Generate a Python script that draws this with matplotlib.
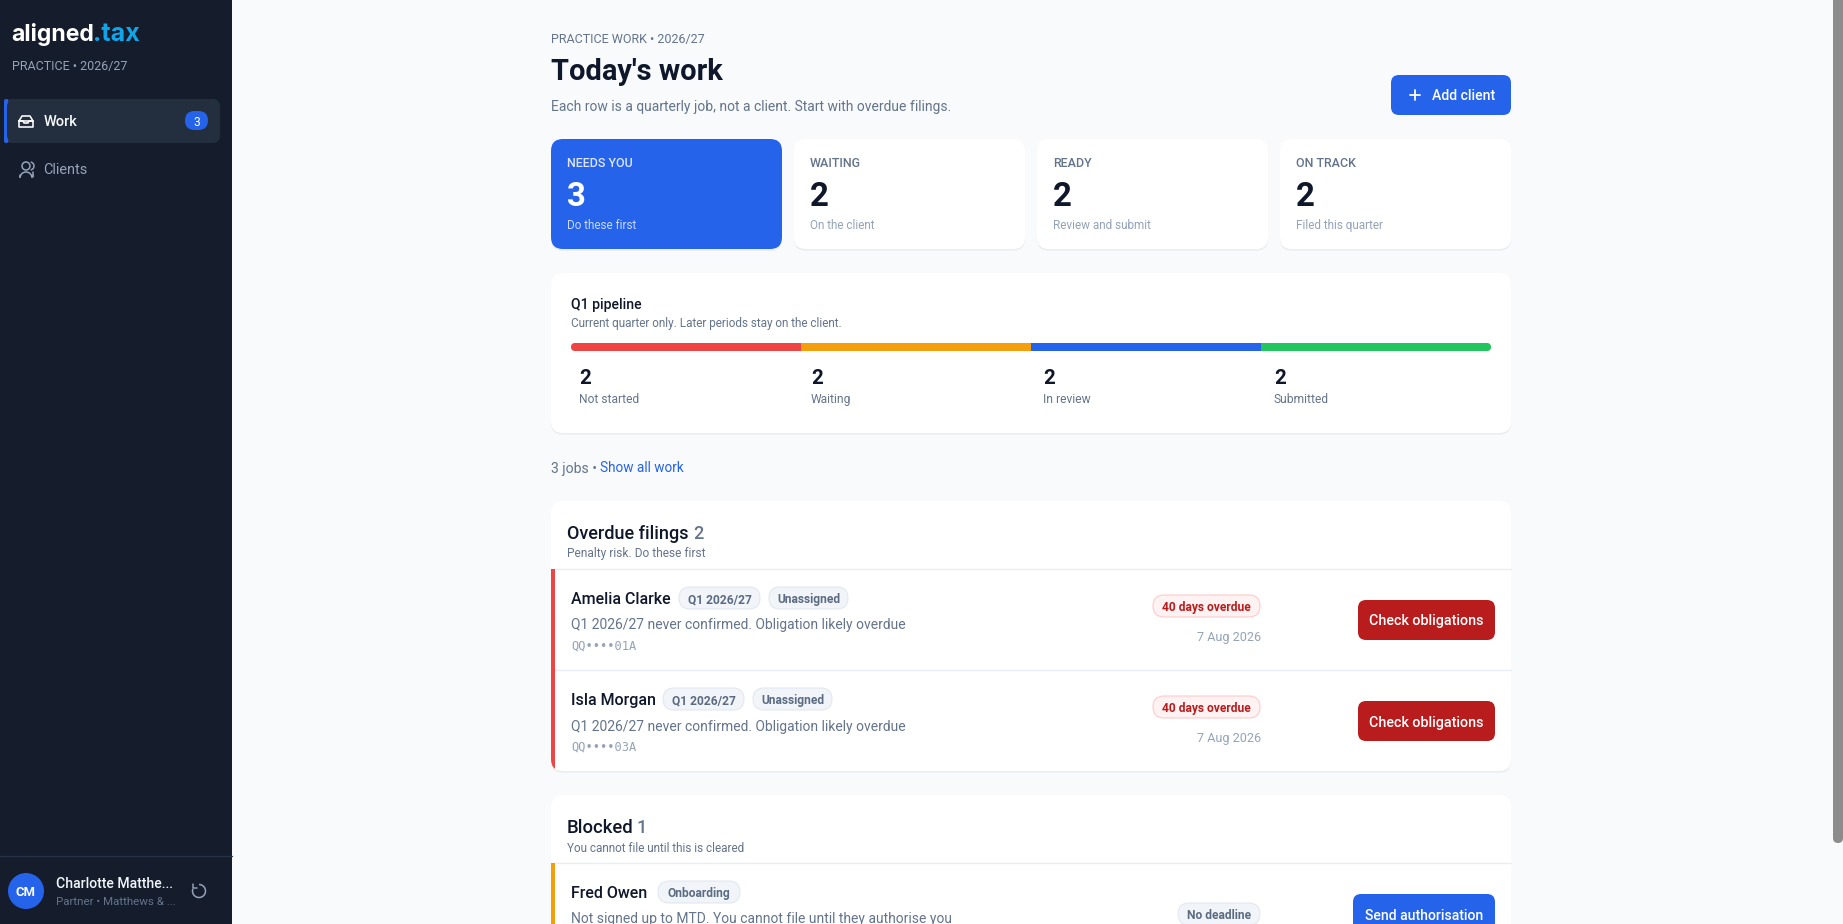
import matplotlib
matplotlib.use("Agg")
import matplotlib.pyplot as plt
from matplotlib.patches import FancyBboxPatch, Rectangle, Circle, Arc

W, H = 1843, 924
FONT = "Roboto"
MONO = "DejaVu Sans Mono"

# ---- data ----
stat_labels = ["NEEDS YOU", "WAITING", "READY", "ON TRACK"]
stat_values = [3, 2, 2, 2]
stat_notes = ["Do these first", "On the client", "Review and submit", "Filed this quarter"]
pipeline_labels = ["Not started", "Waiting", "In review", "Submitted"]
pipeline_values = [2, 2, 2, 2]
pipeline_colors = ["#ef4444", "#f59e0b", "#2563eb", "#22c55e"]
overdue_names = ["Amelia Clarke", "Isla Morgan"]
overdue_codes = ["QQ••••01A", "QQ••••03A"]
overdue_days = [40, 40]
overdue_dates = ["7 Aug 2026", "7 Aug 2026"]
overdue_note = "Q1 2026/27 never confirmed. Obligation likely overdue"

fig = plt.figure(figsize=(W / 100, H / 100), dpi=100, facecolor="#f8fafc")
ax = fig.add_axes([0, 0, 1, 1])
ax.set_xlim(0, W)
ax.set_ylim(H, 0)
ax.axis("off")


def box(x0, y0, x1, y1, r, fc, ec="none", lw=0, z=2):
    p = FancyBboxPatch((x0 + r, y0 + r), x1 - x0 - 2 * r, y1 - y0 - 2 * r,
                       boxstyle=f"round,pad={r},rounding_size={r}",
                       fc=fc, ec=ec, lw=lw, zorder=z, transform=ax.transData)
    ax.add_patch(p)
    return p


def card(x0, y0, x1, y1, r=12, fc="#ffffff"):
    box(x0, y0 + 3, x1, y1 + 2, r, "#eef1f5", z=1)
    box(x0, y0 + 1, x1, y1 + 1, r, "#e9edf2", z=1.2)
    return box(x0, y0, x1, y1, r, fc, z=2)


def txt(x, y, s, px, color, weight="normal", ha="left", family=FONT, z=5):
    return ax.text(x, y, s, fontsize=px * 0.72, color=color, weight=weight, ha=ha,
                   va="center_baseline", family=family, zorder=z)


def line(xs, ys, color, lw=1.0, z=3, **kw):
    ax.plot(xs, ys, color=color, lw=lw * 0.72, zorder=z, solid_capstyle="round", **kw)


def pill(x0, y0, x1, y1, s, fc, ec, tc, px=12):
    box(x0, y0, x1, y1, (y1 - y0) / 2, fc, ec, 0.8, z=4)
    txt((x0 + x1) / 2, (y0 + y1) / 2, s, px, tc, "bold", "center")


PILL_TEXT = "#5b6b82"

# ---- sidebar ----
ax.add_patch(Rectangle((0, 0), 232, H, fc="#151c2c", ec="none", zorder=1.5))
txt(11.5, 32, "aligned", 23, "#ffffff", "bold", family="Inter")
txt(93, 32, ".tax", 25, "#0ea5e9", "bold", family="Inter")
txt(12, 65, "PRACTICE • 2026/27", 12.5, "#94a3b8")
box(4, 99, 220, 143, 8, "#232e3f", z=2)
ax.add_patch(FancyBboxPatch((6, 101), 0.5, 40, boxstyle="round,pad=2,rounding_size=2",
                            fc="#2563eb", ec="none", zorder=2.1))
box(7, 99, 220, 143, 8, "#232e3f", z=2.2)
# inbox icon
line([19, 33, 33, 19, 19], [121, 121, 127, 127, 121], "#ffffff", 1.6)
line([19, 22, 30, 33], [121, 116, 116, 121], "#ffffff", 1.6)
line([19, 23, 24, 28, 29, 33], [121, 121, 123, 123, 121, 121], "#ffffff", 1.6)
txt(44, 121, "Work", 14.5, "#f8fafc", "medium")
box(185, 111, 208, 130, 9.5, "#2563eb", z=3)
txt(196.5, 120.5, "3", 12, "#ffffff", ha="center")
# people icon
ax.add_patch(Circle((26, 166), 4, fc="none", ec="#94a3b8", lw=1.1, zorder=3))
ax.add_patch(Arc((26, 178), 12, 12, theta1=180, theta2=360, ec="#94a3b8", lw=1.1, zorder=3))
line([19.5, 19.5], [175, 176.5], "#94a3b8", 1.5)
line([32.5, 32.5], [175, 176.5], "#94a3b8", 1.5)
ax.add_patch(Arc((30, 166), 8, 8, theta1=-80, theta2=80, ec="#94a3b8", lw=1.1, zorder=3))
line([33, 33], [172, 176], "#94a3b8", 1.5)
txt(43.5, 169, "Clients", 14.5, "#94a3b8")
line([0, 232], [856, 856], "#273244", 1.3)
ax.add_patch(Circle((26, 891), 18, fc="#2563eb", ec="none", zorder=3))
txt(26, 891, "CM", 13, "#ffffff", "bold", "center")
txt(56, 883, "Charlotte Matthe...", 14, "#f1f5f9", "medium")
txt(56, 901, "Partner • Matthews & ...", 11.5, "#64748b")
ax.add_patch(Arc((199, 891), 13, 13, theta1=270, theta2=560, ec="#94a3b8", lw=1.1, zorder=3))
line([192.5, 192.5, 196.5], [884, 888, 888], "#94a3b8", 1.5)

# ---- scrollbar ----
box(1833, -10, 1843, 843, 5, "#8c8c8c", z=1.1)

# ---- header ----
txt(551, 37.5, "PRACTICE WORK • 2026/27", 12.5, "#64748b")
txt(551, 69.5, "Today's work", 29, "#0f172a", "bold")
txt(551, 105, "Each row is a quarterly job, not a client. Start with overdue filings.", 13.9, "#64748b")
box(1391, 75, 1511, 115, 8, "#2563eb", z=3)
line([1410, 1420], [95, 95], "#ffffff", 1.8, z=4)
line([1415, 1415], [90, 100], "#ffffff", 1.8, z=4)
txt(1432, 95, "Add client", 14, "#ffffff", "medium")

# ---- stat cards ----
card_x = [(551, 782), (794, 1025), (1037, 1268), (1280, 1511)]
for i, (x0, x1) in enumerate(card_x):
    hot = i == 0
    card(x0, 139, x1, 249, 12, "#2563eb" if hot else "#ffffff")
    txt(x0 + 16, 162, stat_labels[i], 12.5, "#dbe6fe" if hot else "#64748b", "medium")
    txt(x0 + 16, 194, str(stat_values[i]), 33, "#ffffff" if hot else "#0f172a", "bold")
    txt(x0 + 16, 224, stat_notes[i], 11.8, "#c9d8fb" if hot else "#94a3b8")

# ---- pipeline ----
card(551, 273, 1511, 433, 12)
txt(571, 303, "Q1 pipeline", 14, "#0f172a", "medium")
txt(571, 322.5, "Current quarter only. Later periods stay on the client.", 11.8, "#64748b")
bar_x0, bar_x1, bar_y0, bar_y1 = 571, 1491, 343, 351
bar_ax = fig.add_axes([bar_x0 / W, 1 - bar_y1 / H, (bar_x1 - bar_x0) / W, (bar_y1 - bar_y0) / H])
bar_ax.set_xlim(0, sum(pipeline_values))
bar_ax.set_ylim(0, 1)
bar_ax.axis("off")
clip = FancyBboxPatch((bar_x0 + 4, bar_y0 + 4), bar_x1 - bar_x0 - 8, 0,
                      boxstyle="round,pad=4,rounding_size=4", transform=ax.transData)
left = 0
for v, c in zip(pipeline_values, pipeline_colors):
    b = bar_ax.barh(0.5, v, height=1, left=left, color=c, lw=0)[0]
    b.set_clip_path(clip)
    left += v
stat_x = [579, 811, 1043, 1274]
for x, v, lab in zip(stat_x, pipeline_values, pipeline_labels):
    txt(x, 376, str(v), 20.5, "#0f172a", "bold")
    txt(x, 398, lab, 12, "#64748b")

# ---- filter line ----
txt(551, 467, "3 jobs •", 14, "#64748b")
txt(600, 467, "Show all work", 13.6, "#2563eb")


# ---- sections ----
def job_row(card_patch, y0, y1, stripe, name, name_end, pills, note, code):
    s = ax.add_patch(Rectangle((551, y0), 3.5, y1 - y0, fc=stripe, ec="none", zorder=3))
    s.set_clip_path(card_patch)
    txt(571, y0 + 29, name, 16, "#0f172a", "medium")
    x = name_end + 8
    for label, width in pills:
        pill(x, y0 + 18, x + width, y0 + 40, label, "#f1f5f9", "#e2e8f0", PILL_TEXT)
        x += width + 9
    txt(571, y0 + 55, note, 13.9, "#64748b")
    if code:
        txt(571, y0 + 75.5, code, 12, "#94a3b8", family=MONO)


# overdue
c1 = card(551, 501, 1511, 771, 12)
txt(567, 532, "Overdue filings", 18, "#0f172a", "medium")
txt(693, 532, str(len(overdue_names)), 18, "#64748b", "medium")
txt(567, 552.5, "Penalty risk. Do these first", 11.9, "#64748b")
line([551, 1511], [569, 569], "#e8edf3", 1.4)
line([551, 1511], [670, 670], "#e8edf3", 1.4)
name_ends = [671, 655]
for i, name in enumerate(overdue_names):
    y0 = 569 + 101 * i
    job_row(c1, y0, y0 + 101, "#ef4444", name, name_ends[i],
            [("Q1 2026/27", 81), ("Unassigned", 79)], overdue_note, overdue_codes[i])
    pill(1153, y0 + 26, 1260, y0 + 48, f"{overdue_days[i]} days overdue", "#fef2f2", "#fecaca", "#b91c1c")
    txt(1261, y0 + 67, overdue_dates[i], 12.6, "#94a3b8", ha="right")
    box(1358, y0 + 31, 1495, y0 + 71, 8, "#b91c1c", z=4)
    txt(1426.5, y0 + 51, "Check obligations", 14.2, "#ffffff", "medium", "center")

# blocked
c2 = card(551, 795, 1511, 960, 12)
txt(567, 826, "Blocked", 18.5, "#0f172a", "medium")
txt(637, 826, "1", 18, "#64748b", "medium")
txt(567, 846.5, "You cannot file until this is cleared", 11.7, "#64748b")
line([551, 1511], [863, 863], "#e8edf3", 1.4)
job_row(c2, 863, 970, "#f59e0b", "Fred Owen", 650, [("Onboarding", 82)],
        "Not signed up to MTD. You cannot file until they authorise you", None)
pill(1178, 903, 1260, 925, "No deadline", "#f1f5f9", "#e2e8f0", PILL_TEXT)
box(1353, 894, 1495, 940, 8, "#2563eb", z=4)
txt(1424, 914, "Send authorisation", 14, "#ffffff", "medium", "center")

fig.savefig("out.png", dpi=100, facecolor=fig.get_facecolor())
